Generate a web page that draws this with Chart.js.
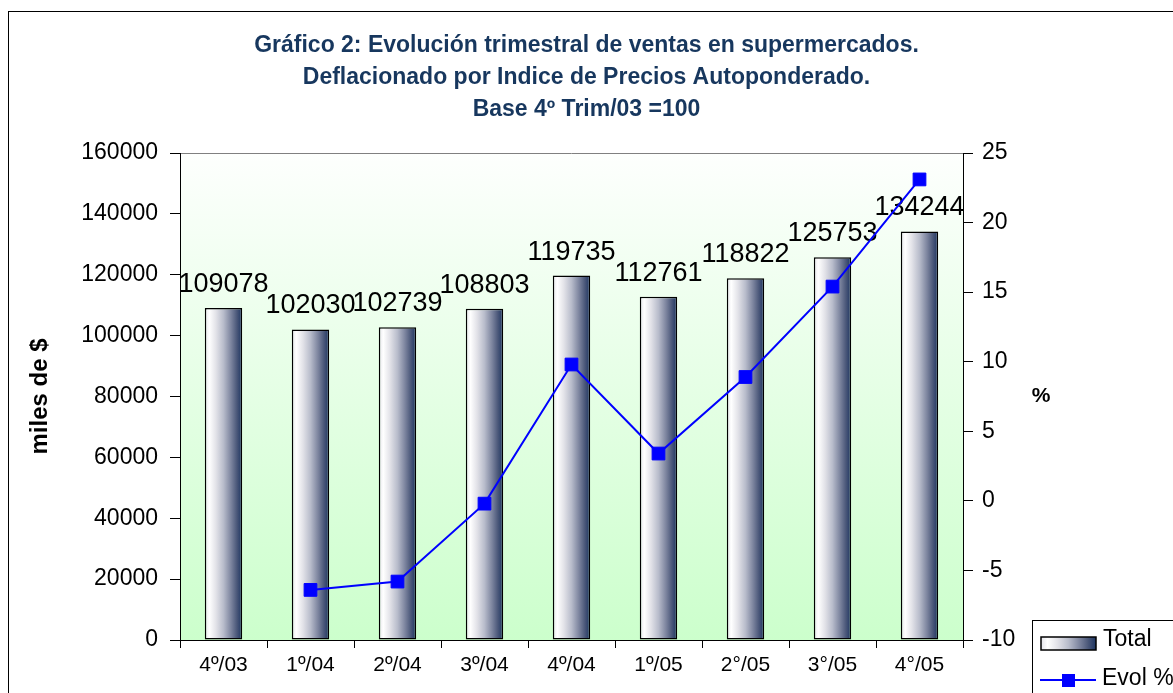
<!DOCTYPE html>
<html>
<head>
<meta charset="utf-8">
<script src="https://cdn.jsdelivr.net/npm/chart.js@4/dist/chart.umd.min.js"></script>
<style>
  body { margin: 0; background: #fff; }
  canvas { display: block; }
</style>
</head>
<body>
<canvas id="ventasChart" width="1173" height="693"></canvas>
<script>
const quarters = ['4º/03', '1º/04', '2º/04', '3º/04', '4º/04', '1º/05', '2°/05', '3°/05', '4°/05'];
const totals = [109078, 102030, 102739, 108803, 119735, 112761, 118822, 125753, 134244];
const evol = [null, -6.4, -5.8, -0.2, 9.8, 3.4, 8.9, 15.4, 23.1];
const titleLines = [
  'Gráfico 2: Evolución trimestral de ventas en supermercados.',
  'Deflacionado por Indice de Precios Autoponderado.',
  'Base 4º Trim/03 =100'
];

const FONT = '"Liberation Sans", Arial, sans-serif';
Chart.defaults.font.family = FONT;
Chart.defaults.color = '#000';

function barGradient(ctx, x0, x1) {
  const g = ctx.createLinearGradient(x0, 0, x1, 0);
  g.addColorStop(0, '#e4e4ea');
  g.addColorStop(0.12, '#ffffff');
  g.addColorStop(0.3, '#e2e2e8');
  g.addColorStop(0.5, '#b8bccb');
  g.addColorStop(0.7, '#7d859f');
  g.addColorStop(0.86, '#4a5779');
  g.addColorStop(1, '#1c3461');
  return g;
}

function barFill(context) {
  const chart = context.chart;
  const xScale = chart.scales.x;
  if (!chart.chartArea || !xScale || context.dataIndex === undefined) return '#8a90a8';
  const cx = xScale.getPixelForValue(context.dataIndex);
  const w = xScale.width / quarters.length * 0.43;
  return barGradient(chart.ctx, cx - w / 2, cx + w / 2);
}

const chartDecor = {
  id: 'chartDecor',
  beforeDraw(chart) {
    const { ctx, chartArea: a } = chart;
    ctx.save();
    ctx.fillStyle = '#fff';
    ctx.fillRect(0, 0, chart.width, chart.height);
    const g = ctx.createLinearGradient(0, a.top, 0, a.bottom);
    g.addColorStop(0, '#fdfffd');
    g.addColorStop(1, '#ccffcc');
    ctx.fillStyle = g;
    ctx.fillRect(a.left, a.top, a.right - a.left, a.bottom - a.top);
    ctx.strokeStyle = '#808080';
    ctx.lineWidth = 1;
    ctx.beginPath();
    ctx.moveTo(a.left, a.top + 0.5);
    ctx.lineTo(a.right, a.top + 0.5);
    ctx.stroke();
    ctx.restore();
  },
  afterDatasetDraw(chart, args) {
    if (args.index !== 0) return;
    const ctx = chart.ctx;
    ctx.save();
    ctx.fillStyle = '#000';
    ctx.font = '27px ' + FONT;
    ctx.textAlign = 'center';
    ctx.textBaseline = 'alphabetic';
    args.meta.data.forEach((bar, i) => {
      ctx.fillText(String(totals[i]), bar.x, bar.y - 16);
    });
    ctx.restore();
  },
  afterDraw(chart) {
    const ctx = chart.ctx;
    ctx.save();
    // outer frame
    ctx.strokeStyle = '#000';
    ctx.lineWidth = 1;
    ctx.strokeRect(8.5, 11.5, 1300, 800);

    // right axis title (horizontal, not rotated)
    ctx.fillStyle = '#000';
    ctx.font = 'bold 21px ' + FONT;
    ctx.textAlign = 'center';
    ctx.textBaseline = 'middle';
    ctx.fillText('%', 1041, 396);

    // legend
    ctx.fillStyle = '#fff';
    ctx.fillRect(1032, 620, 200, 100);
    ctx.strokeRect(1032.5, 620.5, 200, 100);

    ctx.fillStyle = barGradient(ctx, 1041, 1096);
    ctx.fillRect(1041, 637, 55, 13);
    ctx.lineWidth = 1.5;
    ctx.strokeRect(1041, 637, 55, 13);

    ctx.strokeStyle = '#0000ff';
    ctx.lineWidth = 2;
    ctx.beginPath();
    ctx.moveTo(1040, 680);
    ctx.lineTo(1096, 680);
    ctx.stroke();
    ctx.fillStyle = '#0000ff';
    ctx.fillRect(1062, 674, 13, 13);

    ctx.fillStyle = '#000';
    ctx.font = '23px ' + FONT;
    ctx.textAlign = 'left';
    ctx.fillText('Total', 1103, 640);
    ctx.fillText('Evol %', 1102, 679);
    ctx.restore();
  }
};

new Chart(document.getElementById('ventasChart').getContext('2d'), {
  data: {
    labels: quarters,
    datasets: [
      {
        type: 'bar',
        label: 'Total',
        data: totals,
        yAxisID: 'y',
        backgroundColor: barFill,
        borderColor: '#000',
        borderWidth: 1.5,
        borderSkipped: false,
        categoryPercentage: 0.43,
        barPercentage: 1,
        order: 1
      },
      {
        type: 'line',
        label: 'Evol %',
        data: evol,
        yAxisID: 'y1',
        borderColor: '#0000ff',
        backgroundColor: '#0000ff',
        borderWidth: 2,
        pointStyle: 'rect',
        pointRadius: 9,
        pointBorderWidth: 1,
        tension: 0,
        order: 0
      }
    ]
  },
  options: {
    responsive: false,
    animation: false,
    devicePixelRatio: 1,
    layout: { padding: 0 },
    plugins: {
      legend: { display: false },
      tooltip: { enabled: false },
      title: {
        display: true,
        text: titleLines,
        color: '#17375E',
        font: { size: 23, weight: 'bold', lineHeight: '32px' },
        padding: { top: 30, bottom: 27 }
      }
    },
    scales: {
      x: {
        grid: { drawOnChartArea: false, drawTicks: true, tickLength: 8, color: '#000', offset: true },
        border: { color: '#000', width: 1 },
        ticks: { color: '#000', font: { size: 21 }, padding: 5, maxRotation: 0, autoSkip: false },
        afterFit(s) { s.height = 53; }
      },
      y: {
        position: 'left',
        min: 0,
        max: 160000,
        ticks: { stepSize: 20000, font: { size: 23 }, padding: 12, callback: v => String(v) },
        grid: { drawOnChartArea: false, tickLength: 10, color: '#000' },
        border: { color: '#000', width: 1 },
        title: { display: true, text: 'miles de $', font: { size: 24, weight: 'bold' }, padding: { top: 26, bottom: 0 } },
        afterFit(s) { s.width = 180; }
      },
      y1: {
        position: 'right',
        min: -10,
        max: 25,
        ticks: { stepSize: 5, font: { size: 23 }, padding: 9, callback: v => String(v) },
        grid: { drawOnChartArea: false, tickLength: 10, color: '#000' },
        border: { color: '#000', width: 1 },
        title: { display: false },
        afterFit(s) { s.width = 210; }
      }
    }
  },
  plugins: [chartDecor]
});
</script>
</body>
</html>
